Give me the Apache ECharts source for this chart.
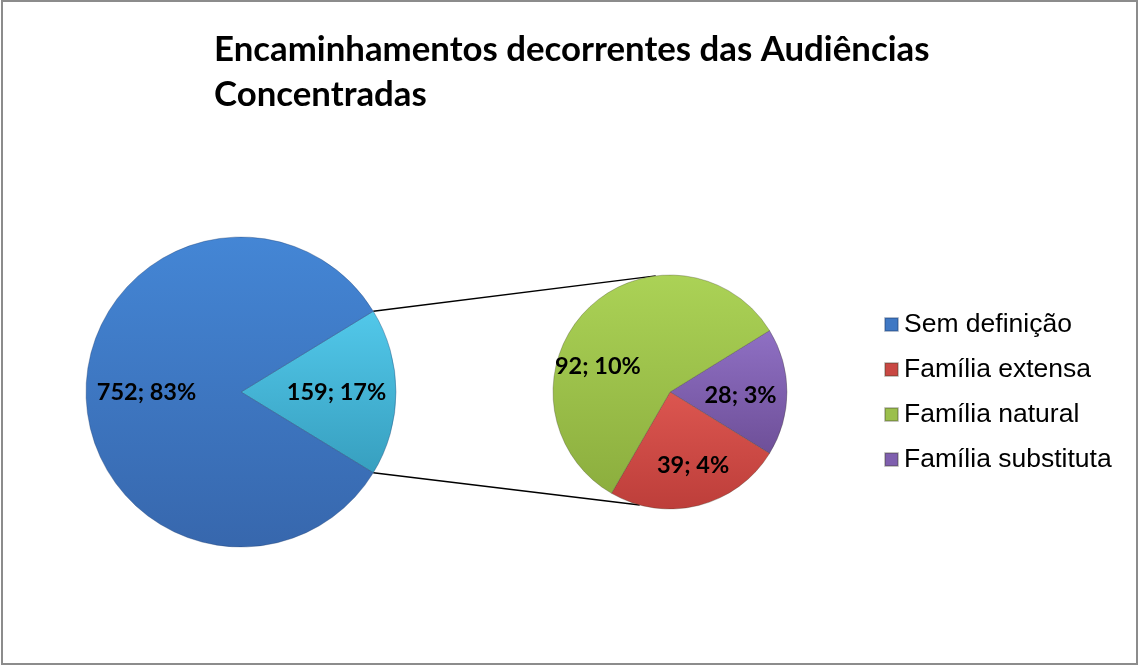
<!DOCTYPE html>
<html>
<head>
<meta charset="utf-8">
<script src="https://cdn.jsdelivr.net/npm/echarts@6/dist/echarts.min.js"></script>
<style>
  html, body { margin: 0; padding: 0; background: #fff; }
  #chart { width: 1139px; height: 666px; }
</style>
</head>
<body>
<div id="chart"></div>
<script>
const legendNames = ['Sem definição', 'Família extensa', 'Família natural', 'Família substituta']
const mainNames = ['Outros', 'Sem definição']
const mainValues = [159, 752]
const subNames = ['Família substituta', 'Família extensa', 'Família natural']
const subValues = [28, 39, 92]

const total = mainValues.reduce((a, b) => a + b, 0)
const subTotal = subValues.reduce((a, b) => a + b, 0)

const mainCenter = [241, 392]
const mainR = 155
const subCenter = [670, 392]
const subR = 117

function grad(top, bottom) {
  return new echarts.graphic.LinearGradient(0, 0, 0, 1, [
    { offset: 0, color: top },
    { offset: 1, color: bottom }
  ])
}

const colors = {
  'Outros': grad('#52c8ea', '#379fbf'),
  'Sem definição': grad('#4486d5', '#3767ad'),
  'Família substituta': grad('#8f70c4', '#6e4f98'),
  'Família extensa': grad('#dc5650', '#bd3e3a'),
  'Família natural': grad('#abd256', '#8cae3e')
}
const legendColors = {
  'Sem definição': '#3f78c4',
  'Família extensa': '#c94843',
  'Família natural': '#9bbf4c',
  'Família substituta': '#7f5fae'
}

const labelOffsets = {
  'Outros': [15, 0],
  'Sem definição': [-14, 0],
  'Família substituta': [9, 3],
  'Família extensa': [8, 14],
  'Família natural': [-28, 17]
}

function label(p) {
  return p.value + '; ' + Math.round(p.value / total * 100) + '%'
}

function item(name, value) {
  return {
    name: name,
    value: value,
    itemStyle: { color: colors[name] },
    label: { offset: labelOffsets[name] }
  }
}

// pie-of-pie connectors
const mainStart = mainValues[0] / total * 360 / 2
const rad = Math.PI / 180
const p1 = [mainCenter[0] + mainR * Math.cos(mainStart * rad), mainCenter[1] - mainR * Math.sin(mainStart * rad)]
const p2 = [mainCenter[0] + mainR * Math.cos(mainStart * rad), mainCenter[1] + mainR * Math.sin(mainStart * rad)]
const q1 = [subCenter[0] + subR * Math.cos(97 * rad), subCenter[1] - subR * Math.sin(97 * rad)]
const q2 = [subCenter[0] + subR * Math.cos(-105 * rad), subCenter[1] - subR * Math.sin(-105 * rad)]

const labelStyle = {
  show: true,
  position: 'inside',
  formatter: label,
  fontFamily: 'Lato',
  fontWeight: 'bold',
  fontSize: 23.5,
  color: '#000'
}

const chart = echarts.init(document.getElementById('chart'))
chart.setOption({
  animation: false,
  title: {
    text: 'Encaminhamentos decorrentes das Audiências\nConcentradas',
    left: 209,
    top: 22,
    textStyle: {
      fontFamily: 'Lato',
      fontWeight: 'bold',
      fontSize: 34.8,
      lineHeight: 45,
      color: '#000'
    }
  },
  legend: {
    orient: 'vertical',
    left: 879,
    top: 306,
    itemWidth: 13,
    itemHeight: 13,
    itemGap: 18,
    icon: 'rect',
    selectedMode: false,
    data: legendNames.map(n => ({ name: n, itemStyle: { color: legendColors[n] } })),
    textStyle: {
      fontFamily: 'Liberation Sans',
      fontSize: 26.5,
      color: '#000',
      padding: [0, 0, 0, 1]
    }
  },
  graphic: [
    {
      type: 'rect',
      shape: { x: 2, y: 1, width: 1135, height: 663 },
      style: { fill: 'none', stroke: '#8c8c8c', lineWidth: 2 },
      z: 0
    },
    {
      type: 'line',
      shape: { x1: p1[0], y1: p1[1], x2: q1[0], y2: q1[1] },
      style: { stroke: '#000', lineWidth: 1.5 },
      z: 1
    },
    {
      type: 'line',
      shape: { x1: p2[0], y1: p2[1], x2: q2[0], y2: q2[1] },
      style: { stroke: '#000', lineWidth: 1.5 },
      z: 1
    }
  ],
  series: [
    {
      type: 'pie',
      center: mainCenter,
      radius: [0, mainR],
      startAngle: mainStart,
      clockwise: true,
      silent: true,
      z: 3,
      label: labelStyle,
      labelLine: { show: false },
      itemStyle: { borderColor: 'rgba(30,60,110,0.35)', borderWidth: 1 },
      data: mainNames.map((n, i) => item(n, mainValues[i]))
    },
    {
      type: 'pie',
      center: subCenter,
      radius: [0, subR],
      startAngle: subValues[0] / subTotal * 360 / 2,
      clockwise: true,
      silent: true,
      z: 3,
      label: labelStyle,
      labelLine: { show: false },
      itemStyle: { borderColor: 'rgba(60,60,40,0.3)', borderWidth: 1 },
      data: subNames.map((n, i) => item(n, subValues[i]))
    }
  ]
})
</script>
</body>
</html>
